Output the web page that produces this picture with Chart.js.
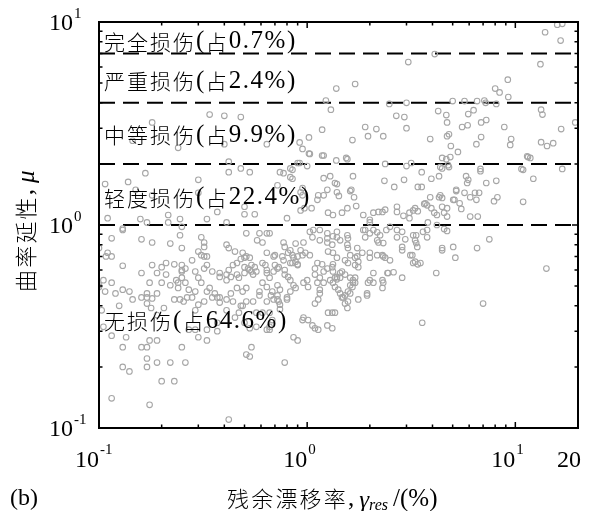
<!DOCTYPE html>
<html>
<head>
<meta charset="utf-8">
<script src="https://cdn.jsdelivr.net/npm/chart.js@4"></script>
<style>
  body { margin: 0; background: #fff; }
  #wrap { width: 594px; height: 511px; }
</style>
</head>
<body>
<div id="wrap"><canvas id="myChart" width="594" height="511"></canvas></div>
<script>
// damage state thresholds (curvature ductility)
const thresholds = [1, 2, 4, 7];
const bandNames = ["无损伤(占64.6%)", "轻度损伤(占22.4%)", "中等损伤(占9.9%)", "严重损伤(占2.4%)", "完全损伤(占0.7%)"];
const bandLabelY = [0.335, 1.36, 2.77, 5.1, 8.0];
const xTicks = [0.1, 1, 10, 20];
const yTicks = [0.1, 1, 10];

// points: [residual drift %, curvature ductility]
const ptsComplete = [[15.9,9.7],[16.8,9.8],[13.9,8.9],[16.5,8.1]];
const ptsSevere = [[4.1,6.95],[3.06,6.35],[13.2,6.2],[1.7,4.95],[9.2,5.2],[8.0,4.7],[8.4,4.5],[9.25,4.27],
  [1.38,4.7],[1.23,4.1],[5.0,4.08],[5.7,4.08],[6.55,4.08],[7.1,4.1]];
const ptsModerate = [[0.18,3.2],[0.145,2.6],[0.24,2.4],[0.34,3.5],[0.40,3.45],[0.48,3.4],[0.40,2.5],[0.42,2.05],
  [0.64,2.5],[0.92,2.55],[0.95,2.37],[1.02,2.7],[1.02,2.25],[1.18,2.95],[1.2,2.2],[0.92,2.02],[1.3,3.7],[1.38,2.08],
  [7.2,4.0],[8.1,3.95],[2.48,3.95],[3.0,4.0],[13.3,3.7],[13.5,3.5],[4.26,3.64],[4.66,3.48],[4.7,3.2],[2.68,3.45],
  [2.93,3.4],[3.0,3.0],[1.9,3.04],[2.15,2.97],[1.96,2.74],[2.32,2.74],[1.65,2.62],[1.54,2.14],[5.94,3.52],[6.3,3.68],
  [5.55,3.04],[5.9,3.1],[6.85,3.2],[7.25,3.29],[8.85,3.04],[3.9,2.65],[4.7,2.74],[4.8,2.8],[4.9,2.45],[6.85,2.71],
  [6.5,2.5],[9.55,2.65],[9.45,2.48],[5.3,2.29],[4.45,2.14],[4.87,2.16],[13.3,2.56],[14.2,2.45],[15.2,2.53],[16.6,2.97],
  [19.4,3.2],[11.4,2.18],[11.8,2.14],[2.37,2.0],[3.16,2.02],[4.66,2.11],[11.5,2.16],[0.9,2.02],[1.18,2.2],[1.03,2.24],
  [1.56,2.11]];
const ptsSlight = [[1.0,1.95],[3.0,1.95],[4.36,1.93],[4.8,1.93],[6.8,1.89],[10.7,1.89],[16.8,1.89],
  [0.167,1.8],[0.30,1.67],[0.42,1.82],[0.48,1.9],[0.53,1.82],[0.74,1.82],[0.85,1.87],[0.72,1.57],[0.83,1.72],
  [0.107,1.59],[0.138,1.63],[0.15,1.49],[0.18,1.4],[0.30,1.44],[0.37,1.16],[0.5,1.13],[0.56,1.13],[0.11,1.08],
  [0.158,1.07],[0.17,1.03],[0.215,1.12],[0.245,1.07],[0.215,1.03],[0.33,1.07],[0.41,1.03],[0.5,1.23],[0.13,0.96],
  [2.35,1.65],[2.62,1.54],[2.92,1.67],[3.4,1.54],[3.55,1.54],[3.55,1.82],[3.95,1.69],[4.3,1.74],[4.45,1.9],
  [5.8,1.74],[5.94,1.67],[5.87,1.61],[5.2,1.49],[5.7,1.44],[6.07,1.37],[6.4,1.44],[6.7,1.44],[6.8,1.84],[7.25,1.61],
  [8.1,1.65],[7.9,1.31],[8.2,1.37],[6.07,1.1],[6.6,1.1],[10.9,1.3],[10.9,1.87],[12.2,1.69],
  [0.83,1.9],[0.85,1.69],[1.2,1.7],[1.29,1.74],[1.36,1.61],[1.39,1.59],[1.63,1.49],[1.66,1.74],
  [0.95,1.52],[0.95,1.4],[0.93,1.18],[0.97,1.21],[1.05,1.21],[1.12,1.33],[1.13,1.4],[1.2,1.4],[1.42,1.39],[1.61,1.47],
  [1.68,1.37],[1.26,1.15],[1.33,1.12],[1.47,1.15],[1.56,1.21],[1.72,1.24],[1.86,1.12],[2.0,1.06],[2.08,1.15],[2.2,1.16],
  [2.3,1.16],[2.37,1.19],[2.7,1.23],[2.7,1.16],[2.9,1.11],[3.1,1.15],[3.3,1.21],[3.4,1.17],[3.65,1.27],[3.77,1.25],
  [3.95,1.21],[4.08,1.15],[4.45,1.23],[4.45,1.36],[4.3,1.37],[5.03,1.33],[5.2,1.47],[5.5,1.2],[4.55,1.15],[4.7,1.1],
  [3.8,1.03],[4.2,1.0],[5.1,1.33],[5.4,1.28],[6.5,1.33],[4.7,1.21],[4.75,1.97],[2.0,1.03],
  [0.93,1.45],[0.8,1.08],[1.25,1.49],[1.39,1.45],[3.1,1.08],[3.9,1.37],[3.7,1.28],[3.23,1.18],[4.2,1.12],[4.36,1.4],
  [0.77,1.8]];
const ptsNone = [[4.55,0.955],[3.77,0.945],[3.6,0.925],[4.7,0.935],
  [1.07,0.945],[1.15,0.945],[1.25,0.91],[1.25,0.86],[1.33,0.88],[1.44,0.84],[1.57,0.86],[1.57,0.77],[1.74,0.77],
  [1.9,0.945],[2.17,0.92],[2.24,0.89],[2.17,0.84],[2.4,0.945],[2.5,0.98],[2.7,0.945],[2.86,0.78],[2.96,0.85],
  [3.34,0.89],[3.34,0.815],[3.38,0.78],[4.45,0.77],[5.03,0.78],[6.55,0.77],[7.5,0.85],[5.15,0.69],
  [1.09,0.61],[1.12,0.65],[1.18,0.64],[1.2,0.52],[1.01,0.495],[1.15,0.46],[1.13,0.43],[1.09,0.41],[1.26,0.37],
  [1.32,0.37],[1.36,0.37],[0.96,0.35],[1.01,0.34],[1.06,0.32],[1.09,0.31],[1.13,0.305],[1.25,0.32],[1.32,0.31],
  [0.86,0.28],[0.9,0.27],[1.33,0.64],[1.36,0.55],[1.39,0.54],[1.44,0.58],[1.52,0.67],[1.57,0.65],[1.41,0.48],
  [1.47,0.44],[1.49,0.44],[1.52,0.41],[1.56,0.39],[1.61,0.46],[1.65,0.495],[1.66,0.52],[1.7,0.55],[1.76,0.43],
  [1.57,0.42],[1.96,0.52],[2.08,0.52],[1.94,0.46],[2.3,0.49],[2.32,0.52],[2.45,0.58],[2.6,0.585],[2.5,0.67],
  [2.86,0.55],[3.13,0.71],[3.23,0.65],[3.4,0.64],[4.17,0.58],[7.0,0.41],[3.57,0.33],[14.1,0.61],[1.74,0.7],
  [1.84,0.73],[2.0,0.69],[2.17,0.71],[2.32,0.7],
  [0.69,0.43],[0.73,0.42],[0.8,0.43],[0.74,0.385],[0.66,0.305],[0.95,0.34],[0.78,0.21],[1.94,0.45],
  [0.66,0.91],[0.77,0.82],[0.78,0.78],[0.83,0.75],[0.88,0.81],[0.93,0.75],[0.96,0.82],[0.7,0.71],[0.76,0.7],
  [0.81,0.73],[0.85,0.71],[0.86,0.69],[0.9,0.7],[0.95,0.71],[0.98,0.73],[1.03,0.71],[0.83,0.65],[0.88,0.66],
  [0.9,0.64],[0.73,0.62],[0.78,0.6],[0.69,0.59],[1.03,0.925],[1.06,0.87],[1.15,0.84],[1.25,0.82],[1.32,0.8],
  [1.26,0.74],[1.33,0.73],[1.39,0.69],[1.39,0.925],[1.39,0.87],[1.56,0.89],[1.56,0.8],[1.61,0.71],[1.7,0.69],
  [1.76,0.66],[1.86,0.945],[1.9,0.87],[2.0,0.91],[2.08,0.945],[2.2,0.82],[2.0,0.73],[2.32,0.815],[2.3,0.71],
  [2.37,0.69],[2.7,0.87],[2.86,0.925],[2.86,0.75],[3.23,0.89],[3.3,0.84],[3.2,0.71],[3.3,0.66],[3.5,0.65],
  [3.77,0.87],[4.45,0.75],
  [1.2,0.59],[1.25,0.61],[1.09,0.57],[1.15,0.55],[1.12,0.52],[0.96,0.52],[1.0,0.535],[0.83,0.535],[0.86,0.505],
  [0.88,0.49],[0.83,0.47],[0.72,0.505],[0.74,0.48],[0.68,0.47],[0.72,0.45],[1.32,0.62],[1.33,0.59],[1.39,0.555],
  [1.44,0.55],[1.29,0.535],[1.33,0.52],[1.36,0.495],[1.47,0.59],[1.52,0.57],[1.61,0.55],[1.66,0.535],[1.7,0.52],
  [1.61,0.505],[1.15,0.48],[1.44,0.46],[1.52,0.45],[1.57,0.47],[2.0,0.535],[2.08,0.58],[2.43,0.58],[2.3,0.535],
  [1.7,0.635],[1.76,0.62],
  [0.13,0.945],[0.115,0.86],[0.16,0.85],[0.18,0.82],[0.22,0.81],[0.25,0.77],[0.31,0.87],[0.32,0.82],[0.25,0.98],
  [0.30,0.74],[0.32,0.78],[0.41,0.8],[0.42,0.77],[0.45,0.74],[0.51,0.91],[0.59,0.91],[0.61,0.82],[0.49,0.73],
  [0.51,0.7],[0.53,0.69],[0.64,0.73],[0.1,0.77],[0.11,0.73],[0.115,0.7],[0.13,0.63],[0.16,0.58],[0.18,0.635],
  [0.2,0.62],[0.21,0.65],[0.23,0.64],[0.25,0.635],[0.19,0.58],[0.21,0.57],[0.25,0.59],[0.26,0.61],[0.29,0.59],
  [0.32,0.61],[0.33,0.635],[0.235,0.535],[0.24,0.52],[0.25,0.55],[0.26,0.52],[0.175,0.52],[0.2,0.52],[0.22,0.505],
  [0.3,0.55],[0.31,0.52],[0.38,0.58],[0.41,0.535],[0.43,0.555],[0.46,0.57],[0.47,0.55],[0.5,0.58],[0.53,0.6],
  [0.54,0.635],[0.57,0.59],[0.61,0.52],[0.64,0.58],[0.66,0.55],[0.105,0.535],[0.115,0.52],[0.1,0.495],[0.107,0.47],
  [0.13,0.48],[0.14,0.47],[0.17,0.46],[0.19,0.46],[0.24,0.49],[0.27,0.48],[0.29,0.47],[0.34,0.49],[0.36,0.46],
  [0.38,0.44],[0.43,0.46],[0.46,0.49],[0.49,0.47],[0.51,0.49],[0.59,0.47],[0.64,0.495],[0.67,0.45],
  [0.31,0.71],[0.32,0.7],[0.28,0.67],[0.25,0.6],[0.35,0.59],[0.38,0.555],[0.41,0.57],[0.42,0.6],[0.44,0.635],
  [0.46,0.65],[0.48,0.68],[0.5,0.69],[0.5,0.62],[0.52,0.61],[0.54,0.59],[0.55,0.57],[0.56,0.62],[0.61,0.65],
  [0.63,0.635],[0.64,0.6],[0.69,0.7],[0.7,0.635],[0.72,0.61],[0.77,0.67],[0.78,0.57],[0.81,0.555],[0.85,0.65],
  [0.9,0.635],[0.35,0.44],[0.38,0.415],[0.41,0.43],[0.44,0.42],[0.48,0.4],[0.51,0.42],[0.55,0.42],[0.59,0.45],
  [0.64,0.42],[0.72,0.43],[0.74,0.405],[0.8,0.44],[0.17,0.44],[0.18,0.435],[0.23,0.43],[0.245,0.43],[0.28,0.44],
  [0.33,0.47],[0.1,0.505],[0.12,0.46],[0.108,0.7],[0.145,0.43],
  [0.103,0.38],[0.105,0.315],[0.115,0.285],[0.125,0.4],[0.16,0.44],[0.17,0.41],[0.178,0.39],[0.19,0.36],
  [0.205,0.39],[0.255,0.42],[0.265,0.44],[0.29,0.38],[0.3,0.405],[0.32,0.42],[0.27,0.305],[0.29,0.305],[0.3,0.28],
  [0.33,0.27],[0.33,0.305],[0.37,0.3],[0.37,0.33],[0.37,0.44],[0.41,0.38],[0.45,0.35],[0.49,0.4],[0.47,0.37],
  [0.5,0.33],[0.57,0.37],[0.61,0.37],[0.66,0.37],[0.68,0.34],[0.53,0.31],[0.57,0.315],[0.13,0.25],[0.135,0.28],
  [0.16,0.25],[0.17,0.25],[0.175,0.27],[0.19,0.27],[0.25,0.25],[0.17,0.22],[0.13,0.2],[0.14,0.19],[0.17,0.2],
  [0.19,0.21],[0.22,0.21],[0.26,0.21],[0.2,0.17],[0.23,0.17],[0.115,0.14],[0.175,0.13],[0.42,0.11],[0.51,0.23],
  [0.53,0.225],[0.54,0.25],[0.64,0.305],[0.66,0.315],[0.245,0.89],[0.575,0.84],[0.64,0.91],[0.33,0.7]];

const allPts = [].concat(ptsNone, ptsSlight, ptsModerate, ptsSevere, ptsComplete).map(p => ({ x: p[0], y: p[1] }));

const serif = '"Liberation Serif", serif';
const cjkFont = '"Noto Sans CJK SC", sans-serif';

// mixed CJK / latin text, drawn char by char, returns end x
function drawMixed(ctx, s, x, y, cjkSize, latSize, cjkGap, latGap) {
  for (const ch of s) {
    const isCjk = /[\u3400-\u9fff]/.test(ch);
    ctx.font = isCjk ? "300 " + cjkSize + "px " + cjkFont : latSize + "px " + serif;
    ctx.fillText(ch, x, y);
    x += ctx.measureText(ch).width + (isCjk ? cjkGap : latGap);
  }
  return x;
}

// threshold lines
const lineSets = thresholds.map(t => ({
  type: "line",
  data: [{ x: 0.1, y: t }, { x: 20, y: t }],
  borderColor: "#000",
  borderWidth: 2,
  borderDash: [16, 8],
  pointRadius: 0,
  order: 2,
}));

// draws the frame, inward ticks, tick labels and all text
const decor = {
  id: "decor",
  afterDraw(chart) {
    const ctx = chart.ctx;
    const a = chart.chartArea;
    const xs = chart.scales.x, ys = chart.scales.y;
    ctx.save();
    ctx.strokeStyle = "#000";
    ctx.lineWidth = 1.5;
    const minor = [];
    [0.1, 1, 10].forEach(d => { for (let k = 2; k <= 9; k++) minor.push(d * k); });
    [0.1, 1, 10].concat(minor).forEach(v => {
      const len = [0.1, 1, 10].includes(v) ? 6 : 3.5;
      if (v <= 20) {
        const px = xs.getPixelForValue(v);
        ctx.beginPath();
        ctx.moveTo(px, a.bottom); ctx.lineTo(px, a.bottom - len);
        ctx.moveTo(px, a.top); ctx.lineTo(px, a.top + len);
        ctx.stroke();
      }
      if (v <= 10) {
        const py = ys.getPixelForValue(v);
        ctx.beginPath();
        ctx.moveTo(a.left, py); ctx.lineTo(a.left + len, py);
        ctx.moveTo(a.right, py); ctx.lineTo(a.right - len, py);
        ctx.stroke();
      }
    });
    ctx.lineWidth = 2;
    ctx.strokeRect(a.left, a.top, a.right - a.left, a.bottom - a.top);

    ctx.fillStyle = "#000";
    ctx.textBaseline = "middle";
    const exp = v => (v === 0.1 ? "-1" : v === 1 ? "0" : "1");
    // y tick labels
    yTicks.forEach(v => {
      const py = ys.getPixelForValue(v) + 2;
      ctx.font = "24px " + serif;
      ctx.textAlign = "left";
      ctx.fillText("10", 49, py);
      const w = ctx.measureText("10").width;
      ctx.font = "15px " + serif;
      ctx.fillText(exp(v), 49 + w + 1, py - 10);
    });
    // x tick labels
    xTicks.forEach(v => {
      const px = xs.getPixelForValue(v);
      ctx.font = "24px " + serif;
      ctx.textAlign = "right";
      if (v === 20) { ctx.fillText("20", px + 3, 461); return; }
      ctx.fillText("10", px, 461);
      ctx.font = "15px " + serif;
      ctx.textAlign = "left";
      ctx.fillText(exp(v), px + 1, 450);
    });

    // band labels
    ctx.textAlign = "left";
    bandNames.forEach((s, i) => {
      drawMixed(ctx, s, xs.getPixelForValue(0.1) + 5, ys.getPixelForValue(bandLabelY[i]), 21, 25, 2, 1.5);
    });

    // x title
    const ty = 499;
    let x = drawMixed(ctx, "残余漂移率,", 227, ty, 22, 25, 2.2, 0) + 5;
    ctx.font = "italic 25px " + serif;
    ctx.fillText("γ", x, ty + 2);
    x += ctx.measureText("γ").width;
    ctx.font = "italic 16px " + serif;
    ctx.fillText("res", x, ty + 7);
    x += ctx.measureText("res").width + 5;
    ctx.font = "25px " + serif;
    ctx.fillText("/(%)", x, ty);

    ctx.font = "24px " + serif;
    ctx.fillText("(b)", 10, 499);

    // y title, rotated
    ctx.save();
    ctx.translate(26, 230);
    ctx.rotate(-Math.PI / 2);
    let yx = drawMixed(ctx, "曲率延性,", -62, 0, 22, 25, 2.2, 0) + 6;
    ctx.font = "italic 25px " + serif;
    ctx.fillText("μ", yx, 1);
    ctx.restore();
    ctx.restore();
  },
};

new Chart(document.getElementById("myChart"), {
  type: "scatter",
  data: {
    datasets: [
      {
        data: allPts,
        pointStyle: "circle",
        pointRadius: 2.8,
        pointBorderWidth: 1.1,
        borderColor: "#a6a6a6",
        backgroundColor: "rgba(0,0,0,0)",
        order: 1,
      },
    ].concat(lineSets),
  },
  options: {
    responsive: false,
    animation: false,
    layout: { padding: { left: 99, right: 16, top: 22, bottom: 83 } },
    plugins: { legend: { display: false }, tooltip: { enabled: false } },
    scales: {
      x: { type: "logarithmic", min: 0.1, max: 20, display: false },
      y: { type: "logarithmic", min: 0.1, max: 10, display: false },
    },
  },
  plugins: [decor],
});
</script>
</body>
</html>
